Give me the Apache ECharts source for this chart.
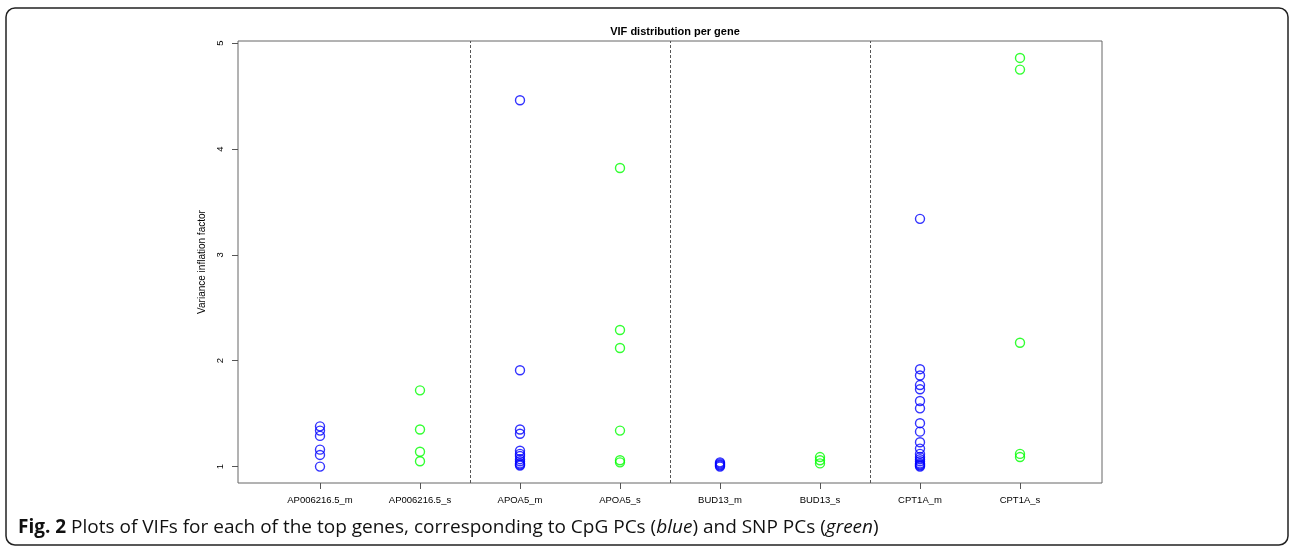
<!DOCTYPE html>
<html>
<head>
<meta charset="utf-8">
<script src="https://cdn.jsdelivr.net/npm/echarts@6/dist/echarts.min.js"></script>
<style>html,body{margin:0;padding:0;background:#fff}#c{width:1292px;height:550px}</style>
</head>
<body>
<div id="c"></div>
<script>
// Categories (x axis tick labels)
const categories = ['AP006216.5_m','AP006216.5_s','APOA5_m','APOA5_s','BUD13_m','BUD13_s','CPT1A_m','CPT1A_s'];
// VIF values
const ap006216_m = [1.38, 1.34, 1.29, 1.16, 1.11, 1.00];
const ap006216_s = [1.72, 1.35, 1.14, 1.05];
const apoa5_m = [4.46, 1.91, 1.35, 1.31, 1.15, 1.12, 1.10, 1.07, 1.05, 1.03, 1.02, 1.01];
const apoa5_s = [3.82, 2.29, 2.12, 1.34, 1.06, 1.04];
const bud13_m = [1.04, 1.03, 1.02, 1.01, 1.00];
const bud13_s = [1.09, 1.06, 1.03];
const cpt1a_m = [3.34, 1.92, 1.86, 1.77, 1.73, 1.62, 1.55, 1.41, 1.33, 1.23, 1.17, 1.12, 1.09, 1.07, 1.05, 1.03, 1.02, 1.01, 1.00];
const cpt1a_s = [4.86, 4.75, 2.17, 1.12, 1.09];
const yTicks = [1, 2, 3, 4, 5];
const separators = [2.5, 4.5, 6.5];

const groups = [ap006216_m, ap006216_s, apoa5_m, apoa5_s, bud13_m, bud13_s, cpt1a_m, cpt1a_s];
const blueData = [], greenData = [];
groups.forEach((vals, i) => {
  vals.forEach(v => (i % 2 === 0 ? blueData : greenData).push([i + 1, v]));
});
const xTickVals = categories.map((c, i) => i + 1);

const chart = echarts.init(document.getElementById('c'), null, {renderer: 'canvas'});
const axisColor = '#555';
const font = 'Liberation Sans, Arial, sans-serif';
const capFont = 'Open Sans, Noto Sans, sans-serif';
chart.setOption({
  animation: false,
  backgroundColor: '#fff',
  title: {
    text: 'VIF distribution per gene',
    left: 670, top: 21, textAlign: 'center',
    textStyle: {fontFamily: font, fontSize: 11, fontWeight: 'bold', color: '#000'}
  },
  grid: {left: 238, right: 190, top: 41, bottom: 67, show: true, borderColor: '#666', borderWidth: 1, backgroundColor: 'transparent'},
  xAxis: {
    type: 'value', min: 0.18, max: 8.82,
    axisLine: {show: false},
    splitLine: {show: false},
    axisTick: {show: true, length: 6, customValues: xTickVals, lineStyle: {color: axisColor}},
    axisLabel: {
      customValues: xTickVals, margin: 12,
      fontFamily: font, fontSize: 9.5, color: '#000',
      formatter: v => categories[Math.round(v) - 1] || ''
    }
  },
  yAxis: {
    type: 'value', min: 0.845, max: 5.02,
    name: 'Variance inflation factor', nameLocation: 'middle', nameGap: 22,
    nameTextStyle: {fontFamily: font, fontSize: 10, color: '#000'},
    axisLine: {show: false},
    splitLine: {show: false},
    axisTick: {show: true, length: 6, customValues: yTicks, lineStyle: {color: axisColor}},
    axisLabel: {customValues: yTicks, rotate: 90, margin: 13, fontFamily: font, fontSize: 9.5, color: '#000'}
  },
  series: [
    {
      type: 'scatter', name: 'CpG PCs', data: blueData,
      symbol: 'circle', symbolSize: 9,
      itemStyle: {color: 'rgba(0,0,0,0)', borderColor: '#0000ff', borderWidth: 1.4},
      markLine: {
        silent: true, symbol: 'none', animation: false,
        label: {show: false},
        lineStyle: {type: [3, 2], color: '#555', width: 1},
        data: separators.map(x => ({xAxis: x}))
      }
    },
    {
      type: 'scatter', name: 'SNP PCs', data: greenData,
      symbol: 'circle', symbolSize: 9,
      itemStyle: {color: 'rgba(0,0,0,0)', borderColor: '#00ff00', borderWidth: 1.4}
    }
  ],
  graphic: [
    {
      type: 'rect', silent: true, z: -1,
      shape: {x: 6, y: 8, width: 1282, height: 537, r: 9},
      style: {fill: 'none', stroke: '#222', lineWidth: 1.5}
    },
    {
      type: 'text', left: 18, top: 518, silent: true,
      style: {
        text: '{b|Fig. 2} Plots of VIFs for each of the top genes, corresponding to CpG PCs ({i|blue}) and SNP PCs ({i|green})',
        fontFamily: capFont, fontSize: 19, fill: '#111',
        rich: {
          b: {fontWeight: 'bold', fontFamily: capFont, fontSize: 19, fill: '#111'},
          i: {fontStyle: 'italic', fontFamily: capFont, fontSize: 19, fill: '#111'}
        }
      }
    }
  ]
});
</script>
</body>
</html>
